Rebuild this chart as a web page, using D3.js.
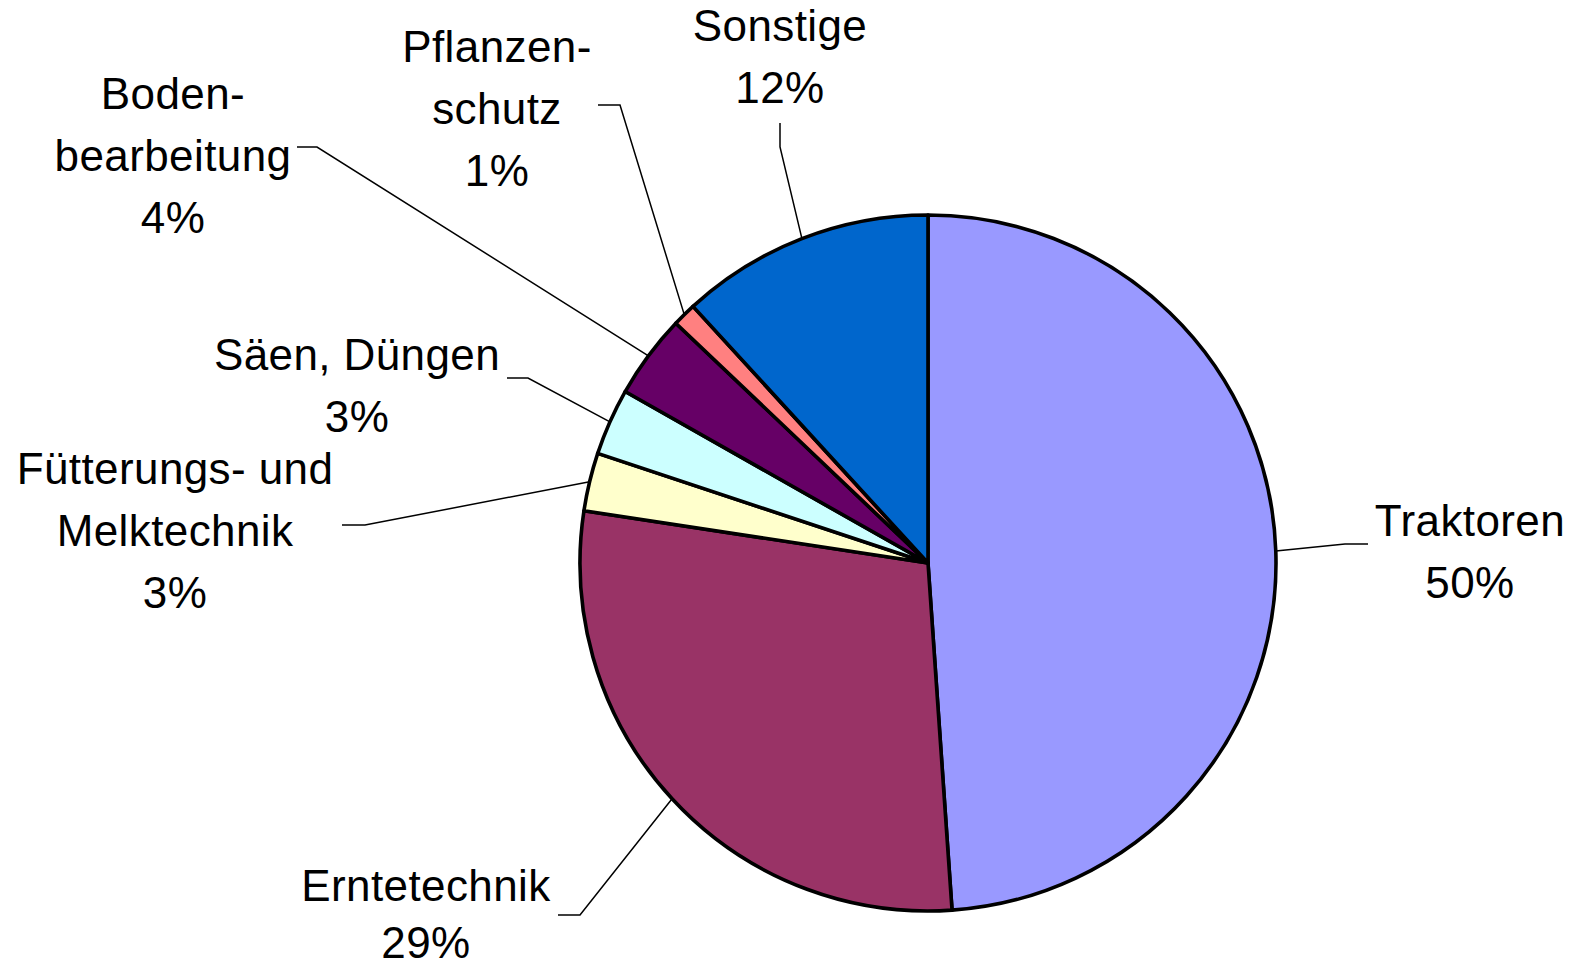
<!DOCTYPE html>
<html>
<head>
<meta charset="utf-8">
<script src="https://cdn.jsdelivr.net/npm/d3@7"></script>
<style>
  html, body { margin: 0; padding: 0; background: #fff; }
  svg { display: block; }
  .lbl { font-family: "Liberation Sans", Arial, sans-serif; font-size: 44px; letter-spacing: 0.4px; fill: #000; }
</style>
</head>
<body>
<div id="chart"></div>
<script>
// Daten (im Uhrzeigersinn ab 12 Uhr)
const categories = ["Traktoren", "Erntetechnik", "Fütterungs- und Melktechnik", "Säen, Düngen", "Bodenbearbeitung", "Pflanzenschutz", "Sonstige"];
const values = [48.9, 28.5, 2.7, 3.1, 3.9, 1.1, 11.8];
const labelLines = [
  ["Traktoren"],
  ["Erntetechnik"],
  ["Fütterungs- und", "Melktechnik"],
  ["Säen, Düngen"],
  ["Boden-", "bearbeitung"],
  ["Pflanzen-", "schutz"],
  ["Sonstige"]
];
const percentLabels = ["50%", "29%", "3%", "3%", "4%", "1%", "12%"];
const colors = ["#9999FF", "#993366", "#FFFFCC", "#CCFFFF", "#660066", "#FF8080", "#0066CC"];

// Layout der Beschriftungen (Textmitte, erste Grundlinie, Zeilenabstand, Knick und Ende der Führungslinie)
const labelLayout = [
  { x: 1470, y: 536, lh: 62, bend: [1345, 544], end: [1368, 544] },
  { x: 426,  y: 901, lh: 57, bend: [580, 915],  end: [558, 915] },
  { x: 175,  y: 484, lh: 62, bend: [365, 525],  end: [342, 525] },
  { x: 357,  y: 370, lh: 62, bend: [528, 378],  end: [507, 378] },
  { x: 173,  y: 109, lh: 62, bend: [317, 147],  end: [297, 147] },
  { x: 497,  y: 62,  lh: 62, bend: [620, 105],  end: [598, 105] },
  { x: 780,  y: 41,  lh: 62, bend: [780, 147],  end: [780, 123] }
];

const width = 1585, height = 970;
const cx = 928, cy = 563, radius = 348;

const svg = d3.select("#chart").append("svg")
  .attr("width", width)
  .attr("height", height);

const g = svg.append("g").attr("transform", `translate(${cx},${cy})`);

const pie = d3.pie().sort(null).value(d => d);
const arcs = pie(values);
const arc = d3.arc().innerRadius(0).outerRadius(radius);

// Tortenstücke
g.selectAll("path.slice")
  .data(arcs)
  .join("path")
  .attr("class", "slice")
  .attr("d", arc)
  .attr("fill", (d, i) => colors[i])
  .attr("stroke", "#000")
  .attr("stroke-width", 3.6)
  .attr("stroke-linejoin", "round");

// Führungslinien
svg.selectAll("path.leader")
  .data(arcs)
  .join("path")
  .attr("class", "leader")
  .attr("fill", "none")
  .attr("stroke", "#000")
  .attr("stroke-width", 1.5)
  .attr("d", (d, i) => {
    const mid = (d.startAngle + d.endAngle) / 2;
    const px = cx + radius * Math.sin(mid);
    const py = cy - radius * Math.cos(mid);
    const L = labelLayout[i];
    return d3.line()([[px, py], L.bend, L.end]);
  });

// Beschriftungen
const labels = svg.selectAll("text.lbl")
  .data(categories)
  .join("text")
  .attr("class", "lbl")
  .attr("text-anchor", "middle")
  .attr("x", (d, i) => labelLayout[i].x)
  .attr("y", (d, i) => labelLayout[i].y);

labels.each(function(d, i) {
  const t = d3.select(this);
  const L = labelLayout[i];
  const lines = labelLines[i].concat([percentLabels[i]]);
  lines.forEach((s, k) => {
    t.append("tspan")
      .attr("x", L.x)
      .attr("y", L.y + k * L.lh)
      .text(s);
  });
});
</script>
</body>
</html>
